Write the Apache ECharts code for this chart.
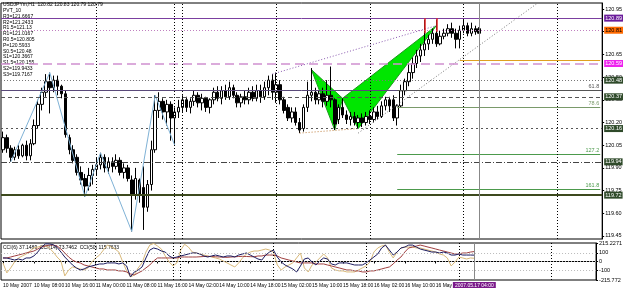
<!DOCTYPE html>
<html><head><meta charset="utf-8">
<script src="https://cdn.jsdelivr.net/npm/echarts@6/dist/echarts.min.js"></script>
<style>html,body{margin:0;padding:0;background:#fff}#c{width:625px;height:292px}</style>
</head><body><div id="c"></div>
<script>
// ---- time axis: trading sessions [day, first hour, number of H1 bars]
const sessions = [['10 May',0,24],['11 May',0,20],['13 May',22,2],['14 May',0,24],['15 May',0,24],['16 May',0,24],['17 May',0,24],['18 May',0,12]];
const firstLabel = '10 May 2007';
const currentBarLabel = '2007.05.17 04:00';
const currentBarIndex = 122;
const lastLabelIndex = 112;
const daySeparators = [24,44,46,70,94,118,142];

// ---- price tick labels (right axis)
const priceTicks = [119.45,119.60,119.75,119.90,120.05,120.20,120.35,120.50,120.65,120.80,120.95];
const cciTicks = [-215.772,-100,0,100,215.2271];

// ---- header texts
const headerText = 'USDJPYm,H1  120.82 120.83 120.79 120.79';
const indicatorName = 'PVT_10';
const pivotNames  = ['R3','R2','R1.5','R1','R0.5','P','S0.5','S1','S1.5','S2','S3'];
const pivotValues = [121.6667,121.2433,121.13,121.0167,120.805,120.5933,120.48,120.3667,120.155,119.9433,119.7167];
const cciHeader = 'CCI(6) 37.1489  CCI(14) 73.7462  CCI(50) 115.7633';

// ---- other horizontal levels
const drawnLevel = 120.89;
const midLevel = 120.41;
const fibZero = 120.61;
const fibNames = ['61.8','78.6','127.2','161.8'];
const fibPrices = [120.41,120.30,119.99,119.76];
const fibStart = 101;
const fibZeroStart = 117;

// ---- OHLC as [open, close, low, high]
const candles = [
[120.02,120.10,120.00,120.14],[120.10,120.03,120.00,120.12],[120.03,119.97,119.94,120.05],[119.97,120.02,119.95,120.04],[120.02,119.98,119.96,120.05],
[119.98,120.05,119.97,120.06],[120.05,119.98,119.95,120.08],[119.98,120.06,119.95,120.09],[120.06,120.18,120.05,120.22],[120.18,120.32,120.16,120.35],
[120.32,120.40,120.28,120.43],[120.40,120.47,120.37,120.52],[120.47,120.43,120.26,120.53],[120.43,120.48,120.40,120.51],[120.48,120.44,120.38,120.51],
[120.44,120.39,120.36,120.45],[120.39,120.12,120.10,120.41],[120.10,120.02,119.99,120.12],[120.02,119.95,119.93,120.05],[119.97,119.87,119.85,119.99],
[119.87,119.82,119.79,119.91],[119.83,119.78,119.71,119.86],[119.78,119.85,119.75,119.90],[119.85,119.89,119.79,119.92],[119.89,119.92,119.85,119.97],
[119.92,119.97,119.89,120.00],[119.97,119.90,119.87,119.99],[119.90,119.94,119.86,119.97],[119.94,119.91,119.87,119.97],[119.91,119.95,119.89,119.99],
[119.95,119.87,119.85,119.97],[119.87,119.90,119.83,119.93],[119.90,119.83,119.81,119.92],[119.82,119.72,119.48,119.85],[119.72,119.83,119.69,119.90],
[119.82,119.72,119.67,119.83],[119.77,119.64,119.49,119.91],[119.64,119.79,119.61,119.82],[119.79,120.02,119.75,120.08],[120.02,120.28,120.00,120.38],
[120.28,120.34,120.23,120.40],[120.34,120.27,120.22,120.36],[120.27,120.32,120.18,120.35],[120.32,120.23,120.08,120.34],[120.23,120.27,120.05,120.30],
[120.27,120.30,120.23,120.35],[120.30,120.35,120.27,120.38],[120.35,120.30,120.27,120.37],[120.30,120.34,120.26,120.36],[120.34,120.38,120.31,120.41],
[120.38,120.33,120.30,120.40],[120.33,120.36,120.28,120.39],[120.36,120.30,120.27,120.37],[120.30,120.35,120.26,120.36],[120.35,120.40,120.32,120.43],
[120.40,120.36,120.34,120.44],[120.36,120.41,120.32,120.44],[120.41,120.37,120.35,120.45],[120.37,120.43,120.35,120.47],[120.43,120.38,120.36,120.45],
[120.38,120.33,120.30,120.40],[120.33,120.37,120.30,120.39],[120.37,120.35,120.32,120.41],[120.35,120.40,120.32,120.43],[120.40,120.36,120.34,120.44],
[120.36,120.41,120.34,120.45],[120.41,120.37,120.33,120.45],[120.37,120.43,120.35,120.47],[120.43,120.48,120.38,120.51],[120.48,120.40,120.35,120.52],
[120.40,120.45,120.33,120.53],[120.45,120.35,120.32,120.48],[120.35,120.28,120.26,120.37],[120.30,120.23,120.21,120.32],[120.23,120.27,120.20,120.30],
[120.27,120.20,120.18,120.30],[120.20,120.15,120.13,120.23],[120.16,120.30,120.14,120.32],[120.30,120.38,120.27,120.47],[120.38,120.40,120.34,120.56],
[120.40,120.35,120.32,120.43],[120.35,120.39,120.32,120.41],[120.39,120.34,120.30,120.43],[120.34,120.38,120.31,120.48],[120.38,120.35,120.30,120.57],
[120.35,120.19,120.15,120.36],[120.22,120.30,120.19,120.32],[120.30,120.25,120.23,120.36],[120.25,120.22,120.19,120.28],[120.22,120.24,120.18,120.27],
[120.24,120.20,120.18,120.27],[120.20,120.23,120.16,120.25],[120.23,120.20,120.17,120.26],[120.20,120.24,120.18,120.27],[120.24,120.22,120.19,120.28],
[120.22,120.27,120.20,120.30],[120.27,120.24,120.22,120.31],[120.24,120.31,120.23,120.34],[120.31,120.35,120.28,120.37],[120.35,120.31,120.27,120.37],
[120.35,120.23,120.21,120.38],[120.23,120.31,120.18,120.32],[120.31,120.41,120.30,120.45],[120.41,120.47,120.38,120.49],[120.47,120.53,120.44,120.59],
[120.53,120.59,120.49,120.63],[120.59,120.64,120.56,120.68],[120.64,120.68,120.60,120.72],[120.68,120.72,120.64,120.88],[120.72,120.75,120.68,120.78],
[120.75,120.79,120.72,120.82],[120.79,120.72,120.70,120.88],[120.72,120.77,120.71,120.81],[120.77,120.79,120.75,120.82],[120.79,120.82,120.77,120.85],
[120.82,120.79,120.76,120.86],[120.79,120.75,120.69,120.82],[120.75,120.81,120.69,120.84],[120.81,120.84,120.79,120.88],[120.84,120.79,120.77,120.86],
[120.79,120.82,120.77,120.86],[120.82,120.80,120.78,120.84],[120.82,120.79,120.79,120.83]
];

// ---- CCI values
const cci6 = [-17,-133,-75,-6,41,64,87,122,157,168, 180,180,157,110,52,6,-168,-99,-64,-75, -87,-99,-75,-6,41,75,133,191,168,145, 110,-6,-110,-180,-157,-75,-17,110,191,210, 180,145,64,-6,-52,-17,133,200,168,110, 99,87,75,64,52,41,29,6,-17,-41, -64,-17,41,87,110,122,122,133,145,133, 110,-41,-99,-64,-41,-17,41,99,-75,-122, -41,-6,41,87,41,-75,-99,-110,-110,-122, -122,-122,-99,-75,-52,-6,110,157,180,191, 110,41,110,157,168,168,168,157,157,145, 133,122,110,87,75,41,-52,-6,52,41, 29,41,37.15];
const cci14 = [41,40,29,17,29,17,41,41,64,110, 168,205,205,195,165,110,52,6,-41,-75, -99,-87,-64,-52,-41,-29,-29,-17,-17,-17, -29,-17,-52,-180,-122,-99,-64,41,133,157, 145,122,110,64,41,52,64,75,87,99, 99,87,64,52,64,75,64,52,64,64, 52,75,87,99,75,52,29,17,75,110, 133,52,-6,-41,-64,-87,-122,-52,29,41, -6,-41,6,41,29,-29,-41,-17,-17,-17, -29,-41,-41,-41,-17,17,52,87,157,191, 133,75,110,157,168,191,191,168,145,133, 122,110,110,99,110,99,75,75,87,75, 75,75,73.75];
const cci50 = [41,41,52,64,75,87,99,110,122,145, 168,180,191,191,180,145,99,52,17,-6, -17,-41,-52,-64,-75,-87,-87,-99,-99,-99, -110,-110,-122,-145,-157,-133,-110,-75,-41,6, 41,41,41,41,41,41,52,52,52,52, 52,55,58,60,57,55,52,50,48,52, 55,58,60,58,56,55,64,64,75,75, 75,64,41,29,17,6,-6,-17,-17,-17, -17,-29,-29,-29,-41,-52,-64,-75,-87,-99, -99,-110,-110,-122,-122,-110,-110,-99,-87,-75, -64,-29,17,52,110,157,168,180,191,180, 168,157,145,133,122,110,99,87,87,99, 99,110,115.76];

// ---- drawn objects: [bar index, price]
const zigzag = [[2,119.94],[12,120.53],[21,119.71],[25,120.00],[33,119.48],[39,120.38],[44,120.05]];
const butterfly = [[79,120.55],[85,120.15],[87,120.36],[91,120.16],[111,120.84]];
const upperTrend = [[69,120.52],[111,120.84]];
const lowerTrend = [[76,120.13],[91,120.16]];
const channelTrend = [[91,120.13],[137,120.99]];
const arrows = [[108,120.89,120.79],[111,120.89,120.80]];

// ---- build categories
const categories = [];
sessions.forEach(([d,h0,n]) => { for (let k=0;k<n;k++){ const h=h0+k; categories.push(d+' '+(h<10?'0':'')+h+':00'); } });

const FS = 5.5, XFS = 5, FONT = 'Liberation Sans';

function hLine(v, color, type, width, tagBg, tagColor){
  const item = {yAxis:v, lineStyle:{color:color,type:type,width:width}, label:{show:false}};
  if (tagBg){ item.label = {show:true, position:'end', distance:2, formatter: v.toFixed(2), backgroundColor: tagBg, color: tagColor, fontSize: FS, fontFamily: FONT, padding:[1,1,0,1]}; }
  return item;
}
function tagOnly(v, tagBg, tagColor){
  return {yAxis:v, lineStyle:{opacity:0}, label:{show:true, position:'end', distance:2, formatter:v.toFixed(2), backgroundColor:tagBg, color:tagColor, fontSize:FS, fontFamily:FONT, padding:[1,1,0,1]}};
}
const DK = '#2f4a2a';
const mainLines = [
  hLine(drawnLevel,'#7b3fa0','solid',1,'#6a1b9a','#fff'),
  hLine(pivotValues[4],'#c080c0',[1,2],1,'#ff6a00','#000'),
  hLine(pivotValues[5],'#d090d0',[9,5],1.5,'#ee22ee','#fff'),
  hLine(pivotValues[6],'#777',[1,2],1,DK,'#fff'),
  hLine(midLevel,'#5a4a7a','solid',1,null),
  tagOnly(midLevel,'#6a1b9a','#fff'),
  hLine(pivotValues[7],'#555',[4,3],1,DK,'#fff'),
  hLine(pivotValues[8],'#555',[2,3],1,DK,'#fff'),
  hLine(pivotValues[9],'#444',[6,2,1,2],1,DK,'#fff'),
  hLine(pivotValues[10],'#3d4a1e','solid',2,DK,'#fff')
];
const fibColors = ['#555','#7a9a6a','#4c9a4c','#4c9a4c'];
fibPrices.forEach((p,k)=>{
  mainLines.push([{coord:[fibStart,p], lineStyle:{color:fibColors[k],type:'solid',width:1}, label:{show:true, position:'insideEndTop', formatter:fibNames[k], color:fibColors[k], fontSize:FS, fontFamily:FONT, distance:1}},{coord:[categories.length-1,p]}]);
});
mainLines.push([{coord:[fibZeroStart,fibZero], lineStyle:{color:'#e0a020',type:'solid',width:1}, label:{show:false}},{coord:[categories.length-1,fibZero]}]);
arrows.forEach(a=>{ mainLines.push([{coord:[a[0],a[1]], lineStyle:{color:'#e02020',type:'solid',width:1.5}, label:{show:false}},{coord:[a[0],a[2]]}]); });
daySeparators.forEach(i=>mainLines.push({xAxis:i, lineStyle:{color:'#000',type:[1,2],width:1}, label:{show:false}}));
mainLines.push({xAxis:currentBarIndex, lineStyle:{color:'#888',type:'solid',width:1}, label:{show:false}});

const cciLines = [0,100,-100].map(v=>({yAxis:v, lineStyle:{color:'#bbb',type:[1,2],width:1}, label:{show:false}}));
daySeparators.forEach(i=>cciLines.push({xAxis:i, lineStyle:{color:'#000',type:[1,2],width:1}, label:{show:false}}));
cciLines.push({xAxis:currentBarIndex, lineStyle:{color:'#888',type:'solid',width:1}, label:{show:false}});

const textStyle = {fontSize:5, fontFamily:FONT, fill:'#000'};
const graphics = [
  {type:'text', left:3, top:2, style:Object.assign({text:headerText},textStyle)},
  {type:'text', left:3, top:8, style:Object.assign({text:indicatorName},textStyle)}
];
pivotNames.forEach((n,k)=>graphics.push({type:'text', left:3, top:14+k*5.8, style:Object.assign({text:n+'='+pivotValues[k]},textStyle)}));
graphics.push({type:'text', left:3, top:245, style:Object.assign({text:cciHeader},textStyle)});

const trendLine = (data,color)=>({type:'line', xAxisIndex:0, yAxisIndex:0, data:data, symbol:'none', silent:true, lineStyle:{color:color,width:1,type:[1,2]}, z:4});
const labelInterval = (i)=> i%8===0 && i<=lastLabelIndex;

const chart = echarts.init(document.getElementById('c'), null, {renderer:'canvas'});
chart.setOption({
  animation:false,
  backgroundColor:'#fff',
  graphic: graphics,
  grid:[
    {left:1, top:3, width:604, height:236, show:true, borderColor:'#000', borderWidth:1, backgroundColor:'#fff'},
    {left:1, top:243, width:604, height:37, show:true, borderColor:'#000', borderWidth:1, backgroundColor:'#fff'}
  ],
  xAxis:[
    {type:'category', gridIndex:0, data:categories, boundaryGap:true, axisLine:{show:false}, axisTick:{show:false}, axisLabel:{show:false}, splitLine:{show:false}},
    {type:'category', gridIndex:1, position:'bottom', data:categories, boundaryGap:true, axisLine:{show:true, lineStyle:{color:'#000'}},
      axisTick:{show:true, length:2, interval:labelInterval, alignWithLabel:true, lineStyle:{color:'#000'}},
      axisLabel:{show:true, interval:labelInterval, showMinLabel:true, hideOverlap:false, formatter:(v,i)=> i===0?firstLabel:v, fontSize:XFS, fontFamily:FONT, color:'#000', align:'left', margin:3},
      splitLine:{show:false}},
    {type:'category', gridIndex:1, position:'bottom', data:categories, boundaryGap:true, axisLine:{show:false}, axisTick:{show:false},
      axisLabel:{show:true, interval:(i)=> i===currentBarIndex, hideOverlap:false, formatter:()=> '{hl|'+currentBarLabel+'}', margin:2, align:'center',
        rich:{hl:{backgroundColor:'#7a1a8a', color:'#fff', fontSize:XFS, fontFamily:FONT, padding:[1,2,0,2]}}}}
  ],
  yAxis:[
    {type:'value', gridIndex:0, position:'right', min:119.43, max:120.99, scale:true,
      axisLine:{show:true, lineStyle:{color:'#000'}}, axisTick:{show:true, length:2, customValues:priceTicks, lineStyle:{color:'#000'}},
      axisLabel:{show:true, customValues:priceTicks, formatter:(v)=>v.toFixed(2), fontSize:FS, fontFamily:FONT, color:'#000', margin:3},
      splitLine:{show:false}},
    {type:'value', gridIndex:1, position:'right', min:-215.772, max:215.2271,
      axisLine:{show:true, lineStyle:{color:'#000'}}, axisTick:{show:true, length:2, customValues:cciTicks, lineStyle:{color:'#000'}},
      axisLabel:{show:true, customValues:cciTicks, formatter:(v)=> String(v), fontSize:FS, fontFamily:FONT, color:'#000', margin:3},
      splitLine:{show:false}}
  ],
  series:[
    {type:'candlestick', xAxisIndex:0, yAxisIndex:0, data:candles, barWidth:3, z:3,
      itemStyle:{color:'#fff', color0:'#000', borderColor:'#000', borderColor0:'#000', borderWidth:1},
      markLine:{silent:true, symbol:'none', animation:false, data:mainLines}},
    {type:'custom', xAxisIndex:0, yAxisIndex:0, data:butterfly, z:2, silent:true,
      renderItem:(params, api)=>{
        if (params.dataIndex!==0) return null;
        const p = butterfly.map(d=>api.coord(d));
        return {type:'group', children:[
          {type:'polygon', shape:{points:[p[0],p[1],p[2]]}, style:{fill:'#00e600', stroke:'#1a9a1a', lineWidth:1}},
          {type:'polygon', shape:{points:[p[2],p[3],p[4]]}, style:{fill:'#00e600', stroke:'#1a9a1a', lineWidth:1}}
        ]};
      }},
    {type:'line', xAxisIndex:0, yAxisIndex:0, data:zigzag, symbol:'none', silent:true, lineStyle:{color:'#7fb2d6', width:1}, z:4},
    trendLine(upperTrend,'#8a5ab0'),
    trendLine(lowerTrend,'#c08040'),
    trendLine(channelTrend,'#777'),
    {type:'line', xAxisIndex:1, yAxisIndex:1, data:cci6, symbol:'none', lineStyle:{color:'#d8b878', width:1}, z:3},
    {type:'line', xAxisIndex:1, yAxisIndex:1, data:cci50, symbol:'none', lineStyle:{color:'#a04040', width:1}, z:3},
    {type:'line', xAxisIndex:1, yAxisIndex:1, data:cci14, symbol:'none', lineStyle:{color:'#1c1c60', width:1}, z:4,
      markLine:{silent:true, symbol:'none', animation:false, data:cciLines}}
  ]
});
</script>
</body></html>
